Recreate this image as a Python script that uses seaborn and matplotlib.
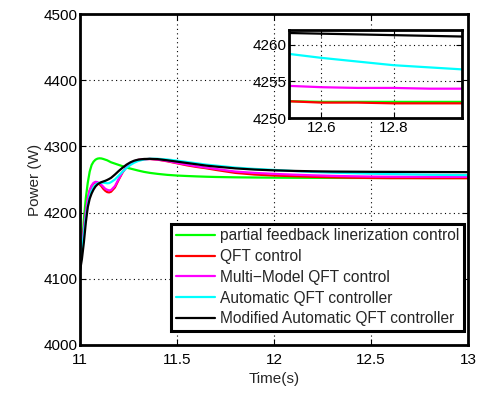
import numpy as np
import pandas as pd
import matplotlib
matplotlib.use("Agg")
import matplotlib.pyplot as plt
import seaborn as sns

# ---------------- data ----------------
time_s = [11.00, 11.01, 11.02, 11.03, 11.04, 11.05, 11.06, 11.07, 11.08, 11.09,
          11.10, 11.11, 11.12, 11.13, 11.14, 11.15, 11.16, 11.18, 11.20, 11.22,
          11.24, 11.26, 11.28, 11.30, 11.33, 11.36, 11.40, 11.45, 11.50, 11.55,
          11.60, 11.65, 11.70, 11.80, 11.90, 12.00, 12.10, 12.20, 12.30, 12.40,
          12.50, 12.60, 12.70, 12.80, 12.90, 13.00]

pfl_power = [4115, 4150, 4190, 4222, 4245, 4262, 4272, 4277, 4280, 4281.5,
             4282, 4281.8, 4281, 4280, 4279, 4277.5, 4276, 4274, 4272, 4270,
             4268, 4266.5, 4265, 4263.5, 4261.5, 4260, 4258.5, 4257, 4256, 4255.3,
             4254.7, 4254.2, 4253.8, 4253.3, 4253, 4252.8, 4252.6, 4252.5, 4252.4, 4252.3,
             4252.3, 4252.2, 4252.2, 4252.2, 4252.2, 4252.2]

qft_power = [4115, 4145, 4175, 4200, 4220, 4233, 4240, 4244, 4245.5, 4245,
             4243, 4240, 4236, 4233, 4231, 4230.5, 4231.5, 4238, 4250, 4261,
             4269, 4274, 4277.5, 4279.5, 4280.5, 4281, 4280, 4277.5, 4274.5, 4271.5,
             4269, 4267, 4264.5, 4260, 4257.5, 4256, 4255, 4254, 4253.3, 4252.7,
             4252.3, 4252.1, 4252.1, 4252.0, 4252.0, 4252.0]

mmqft_power = [4115, 4145, 4175, 4201, 4221, 4234, 4241, 4245, 4246.5, 4246,
               4244.5, 4242, 4239, 4236, 4234.5, 4233.5, 4234, 4240, 4251, 4261.5,
               4269, 4274, 4277.5, 4279.5, 4280.5, 4281, 4280.2, 4278, 4275, 4272.5,
               4270, 4268, 4266, 4262, 4260, 4258.5, 4257.3, 4256.3, 4255.5, 4254.9,
               4254.4, 4254.2, 4254.1, 4254.1, 4254.0, 4254.0]

aqft_power = [4115, 4140, 4168, 4192, 4211, 4225, 4233, 4238.5, 4242, 4244,
              4245, 4245.3, 4245.2, 4244.8, 4244.3, 4244.5, 4246, 4250, 4256, 4262,
              4267.5, 4272, 4275.5, 4278, 4280.3, 4281.3, 4281.3, 4280.2, 4278.5, 4276.5,
              4274.5, 4272.5, 4271, 4268, 4266, 4264.5, 4262.8, 4261.4, 4260.3, 4259.5,
              4258.8, 4258.2, 4257.7, 4257.2, 4256.9, 4256.6]

maqft_power = [4112, 4130, 4155, 4185, 4208, 4221, 4229, 4235, 4239.5, 4242.5,
               4244.5, 4246, 4247, 4248, 4249.3, 4250.8, 4252.5, 4257.5, 4263, 4268,
               4272.5, 4276, 4278.5, 4280, 4281, 4281.2, 4280.8, 4279, 4277, 4275,
               4273, 4271, 4269.5, 4266.8, 4265, 4263.8, 4263, 4262.4, 4262, 4261.8,
               4261.6, 4261.5, 4261.4, 4261.3, 4261.2, 4261.1]

series_labels = ["partial feedback linerization control",
                 "QFT control",
                 "Multi\u2212Model QFT control",
                 "Automatic QFT controller",
                 "Modified Automatic QFT controller"]
series_values = [pfl_power, qft_power, mmqft_power, aqft_power, maqft_power]
series_colors = ["#00FF00", "#FF0000", "#FF00FF", "#00FFFF", "#000000"]

x_ticks = [11, 11.5, 12, 12.5, 13]
x_ticklabels = ["11", "11.5", "12", "12.5", "13"]
y_ticks = [4000, 4100, 4200, 4300, 4400, 4500]
inset_x_ticks = [12.6, 12.8]
inset_y_ticks = [4250, 4255, 4260]

# ---------------- style ----------------
sns.set_style("ticks")
plt.rcParams["font.family"] = ["Liberation Sans", "DejaVu Sans"]
FS = 11
plt.rcParams["font.size"] = FS

fig = plt.figure(figsize=(4.84, 3.94), dpi=100)
ax = fig.add_axes([80 / 484, 1 - 345 / 394, 388 / 484, 331 / 394])

LW = 1.6
for vals, lab, col in zip(series_values, series_labels, series_colors):
    sns.lineplot(x=time_s, y=vals, ax=ax, color=col, linewidth=LW, label=lab)

def style_axes(a, lw=2.0):
    for s in a.spines.values():
        s.set_visible(True)
        s.set_linewidth(lw)
        s.set_color("black")
    a.tick_params(direction="in", top=True, right=True, length=4,
                  width=0.8, labelsize=FS, colors="black", pad=2)
    a.grid(True, linestyle=(0, (1, 3)), color="black", linewidth=0.8)
    a.set_axisbelow(True)

style_axes(ax)
ax.tick_params(axis="x", pad=6)
ax.set_xlim(11, 13)
ax.set_ylim(4000, 4500)
ax.set_xticks(x_ticks)
ax.set_xticklabels(x_ticklabels)
ax.set_yticks(y_ticks)
ax.set_xlabel("Time(s)", fontsize=FS, labelpad=3)
ax.set_ylabel("Power (W)", fontsize=FS)
ax.yaxis.set_label_coords(-0.097, 0.5)

leg = ax.legend(loc="lower right", bbox_to_anchor=(464 / 484, 1 - 331 / 394),
                bbox_transform=fig.transFigure, borderaxespad=0,
                fancybox=False, framealpha=1, edgecolor="black",
                fontsize=11.2, handlelength=2.5, handletextpad=0.35,
                labelspacing=0.37, borderpad=0.3)
leg.get_frame().set_linewidth(2.2)

# ---------------- inset ----------------
axin = fig.add_axes([289 / 484, 1 - 118 / 394, 173 / 484, 88 / 394])
axin.set_facecolor("white")
for vals, col in zip(series_values, series_colors):
    sns.lineplot(x=time_s, y=vals, ax=axin, color=col, linewidth=LW, legend=False)
style_axes(axin)
axin.set_xlim(12.51, 12.99)
axin.set_ylim(4250, 4262)
axin.set_xticks(inset_x_ticks)
axin.set_yticks(inset_y_ticks)
axin.set_xlabel("")
axin.set_ylabel("")

fig.savefig("out.png", dpi=100)
